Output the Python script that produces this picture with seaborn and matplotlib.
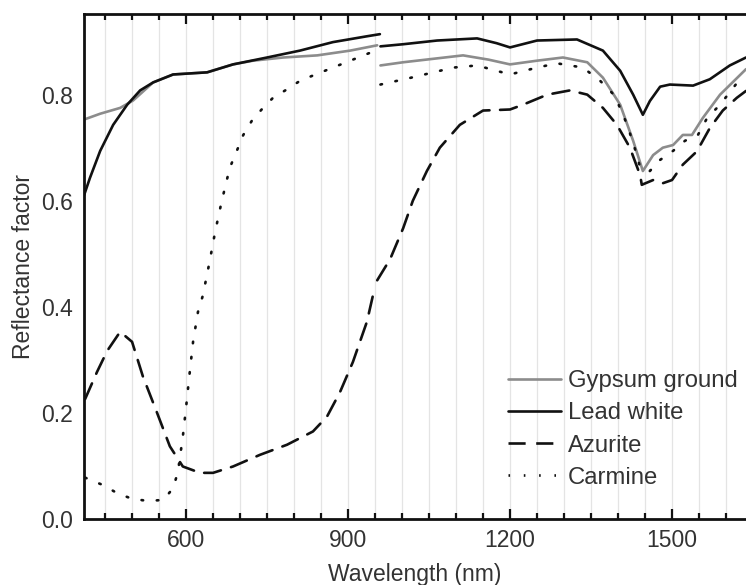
import numpy as np
import pandas as pd
import matplotlib
matplotlib.use("Agg")
import matplotlib.pyplot as plt
import seaborn as sns
from matplotlib.lines import Line2D

# --- data (wavelength in nm, reflectance factor) ---
# the spectra have a detector break near 957 nm, so each series is two segments
gypsum_wl_1 = [411, 441, 478, 502, 539, 576, 639, 687, 724, 780, 843, 904, 954]
gypsum_r_1 = [0.753, 0.764, 0.775, 0.789, 0.823, 0.838, 0.842, 0.857, 0.864, 0.870, 0.874, 0.883, 0.893]
gypsum_wl_2 = [960, 1002, 1113, 1160, 1200, 1250, 1298, 1343, 1372, 1404, 1428, 1446,
               1465, 1483, 1502, 1520, 1537, 1557, 1589, 1637]
gypsum_r_2 = [0.855, 0.861, 0.874, 0.866, 0.857, 0.864, 0.870, 0.861, 0.832, 0.781, 0.713, 0.656,
              0.686, 0.700, 0.705, 0.724, 0.724, 0.756, 0.800, 0.848]

lead_wl_1 = [411, 422, 441, 465, 491, 515, 539, 576, 639, 687, 750, 811, 872, 935, 959]
lead_r_1 = [0.610, 0.643, 0.694, 0.743, 0.781, 0.808, 0.823, 0.838, 0.842, 0.857, 0.870, 0.883,
            0.899, 0.910, 0.914]
lead_wl_2 = [960, 1002, 1065, 1139, 1175, 1200, 1250, 1324, 1372, 1404, 1428, 1446, 1459,
             1478, 1496, 1539, 1570, 1607, 1637]
lead_r_2 = [0.891, 0.895, 0.902, 0.906, 0.897, 0.889, 0.902, 0.904, 0.883, 0.845, 0.800, 0.762,
            0.788, 0.815, 0.819, 0.817, 0.829, 0.855, 0.870]

azurite_wl_1 = [413, 435, 454, 478, 500, 520, 546, 570, 594, 626, 650, 687, 737, 787, 835,
                861, 885, 909, 935, 946]
azurite_r_1 = [0.226, 0.277, 0.317, 0.353, 0.334, 0.269, 0.201, 0.137, 0.099, 0.087, 0.087,
               0.099, 0.121, 0.140, 0.165, 0.193, 0.239, 0.296, 0.372, 0.421]
azurite_wl_2 = [954, 978, 1002, 1020, 1046, 1070, 1107, 1150, 1200, 1224, 1269, 1311, 1343,
                1372, 1398, 1422, 1441, 1444, 1465, 1483, 1500, 1520, 1546, 1570, 1594, 1620, 1637]
azurite_r_2 = [0.450, 0.490, 0.548, 0.600, 0.656, 0.700, 0.743, 0.770, 0.772, 0.781, 0.800,
               0.808, 0.800, 0.775, 0.743, 0.700, 0.648, 0.630, 0.639, 0.633, 0.639, 0.668,
               0.693, 0.737, 0.770, 0.794, 0.807]

carmine_wl_1 = [413, 446, 472, 500, 530, 558, 576, 585, 594, 600, 606, 613, 622, 631, 643,
                654, 666, 681, 694, 706, 722, 740, 761, 787, 811, 835, 872, 909, 941, 954]
carmine_r_1 = [0.078, 0.064, 0.049, 0.038, 0.034, 0.036, 0.058, 0.089, 0.155, 0.210, 0.269,
               0.334, 0.390, 0.421, 0.482, 0.542, 0.599, 0.662, 0.694, 0.724, 0.751, 0.772,
               0.794, 0.810, 0.826, 0.836, 0.851, 0.866, 0.879, 0.889]
carmine_wl_2 = [960, 1017, 1095, 1139, 1200, 1250, 1287, 1335, 1367, 1394, 1417, 1435, 1441,
                1459, 1478, 1502, 1524, 1548, 1565, 1589, 1631]
carmine_r_2 = [0.819, 0.832, 0.851, 0.855, 0.838, 0.851, 0.859, 0.851, 0.826, 0.798, 0.743,
               0.686, 0.662, 0.656, 0.677, 0.694, 0.713, 0.724, 0.756, 0.781, 0.836]

labels = ["Gypsum ground", "Lead white", "Azurite", "Carmine"]

sns.set_style("white")
plt.rcParams["font.family"] = ["Liberation Sans", "DejaVu Sans"]
plt.rcParams["font.size"] = 16.5

fig = plt.figure(figsize=(7.46, 5.85), dpi=100)
ax = fig.add_axes([84 / 746, 66 / 585, (746 - 84) / 746, (519 - 14) / 585])

lw = 1.9
styles = {
    "Gypsum ground": dict(color="#8c8c8c", linewidth=lw),
    "Lead white": dict(color="#111111", linewidth=lw),
    "Azurite": dict(color="#111111", linewidth=lw, dashes=(6.5, 4)),
    "Carmine": dict(color="#111111", linewidth=lw, dashes=(0.6, 5.2)),
}
series = {
    "Gypsum ground": [(gypsum_wl_1, gypsum_r_1), (gypsum_wl_2, gypsum_r_2)],
    "Lead white": [(lead_wl_1, lead_r_1), (lead_wl_2, lead_r_2)],
    "Azurite": [(azurite_wl_1, azurite_r_1), (azurite_wl_2, azurite_r_2)],
    "Carmine": [(carmine_wl_1, carmine_r_1), (carmine_wl_2, carmine_r_2)],
}

for name in labels:
    st = dict(styles[name])
    dash = st.pop("dashes", None)
    for wl, r in series[name]:
        df = pd.DataFrame({"wl": wl, "r": r})
        sns.lineplot(data=df, x="wl", y="r", ax=ax, sort=False, estimator=None, **st)
        if dash is not None:
            ax.lines[-1].set_dashes(dash)
            ax.lines[-1].set_dash_capstyle("round")

ax.set_xlim(411, 1637)
ax.set_ylim(0, 0.952)

ax.set_xticks([600, 900, 1200, 1500])
ax.set_xticks(np.arange(450, 1650, 50), minor=True)
ax.set_yticks([0.0, 0.2, 0.4, 0.6, 0.8])
ax.set_yticklabels(["0.0", "0.2", "0.4", "0.6", "0.8"])

ax.tick_params(axis="x", which="both", direction="in", top=True, bottom=True,
               color="#111111", width=1.6, pad=7, labelcolor="#333333")
ax.tick_params(axis="x", which="major", length=7)
ax.tick_params(axis="x", which="minor", length=4)
ax.tick_params(axis="y", length=0, pad=8, labelcolor="#333333")

ax.grid(True, axis="x", which="both", color="#e4e4e4", linewidth=0.9)
ax.grid(False, axis="y")
ax.set_axisbelow(True)

for side in ["left", "top", "bottom"]:
    ax.spines[side].set_color("#111111")
    ax.spines[side].set_linewidth(2.0)
ax.spines["right"].set_visible(False)

ax.set_xlabel("Wavelength (nm)", color="#333333", labelpad=8)
ax.set_ylabel("Reflectance factor", color="#333333", labelpad=4)

handles = []
for name in labels:
    st = dict(styles[name])
    dash = st.pop("dashes", None)
    h = Line2D([], [], **st)
    if dash is not None:
        h.set_dashes(dash)
    handles.append(h)

ax.legend(handles, labels, loc="upper left", frameon=False,
          bbox_to_anchor=(508 / 746, 1 - 370 / 585), bbox_transform=fig.transFigure,
          borderpad=0, borderaxespad=0, handlelength=2.2, handletextpad=0.3,
          labelspacing=0.43, fontsize=17.2, labelcolor="#333333")

fig.savefig("out.png", dpi=100)
